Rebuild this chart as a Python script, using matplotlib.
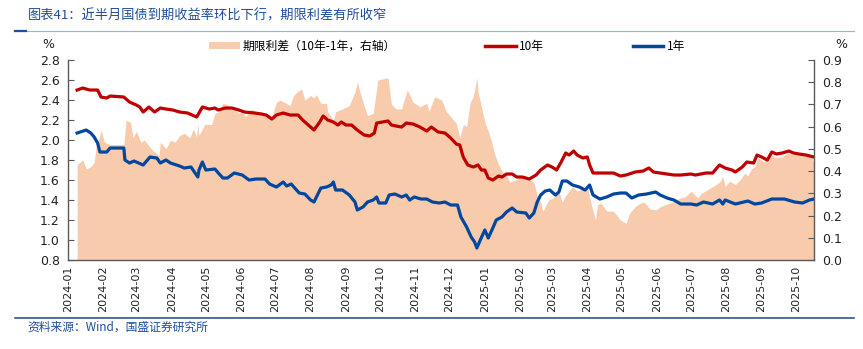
import numpy as np
import pandas as pd
import matplotlib
matplotlib.use("Agg")
import matplotlib.pyplot as plt
import matplotlib.dates as mdates
from matplotlib.lines import Line2D

plt.rcParams['font.family'] = ['Noto Sans CJK SC', 'DejaVu Sans']

# 10年国债到期收益率 (%)
ten_year = [
    ('2024-01-09', 2.50), ('2024-01-14', 2.52), ('2024-01-20', 2.50), ('2024-01-27', 2.50),
    ('2024-01-30', 2.43), ('2024-02-04', 2.42), ('2024-02-07', 2.44), ('2024-02-19', 2.43),
    ('2024-02-24', 2.38), ('2024-03-01', 2.35), ('2024-03-04', 2.33), ('2024-03-07', 2.28),
    ('2024-03-12', 2.33), ('2024-03-17', 2.28), ('2024-03-22', 2.32), ('2024-03-27', 2.31),
    ('2024-04-02', 2.30), ('2024-04-08', 2.28), ('2024-04-15', 2.27), ('2024-04-23', 2.23),
    ('2024-04-28', 2.33), ('2024-05-04', 2.31), ('2024-05-09', 2.32), ('2024-05-12', 2.30),
    ('2024-05-18', 2.32), ('2024-05-24', 2.32), ('2024-05-30', 2.30), ('2024-06-04', 2.28),
    ('2024-06-13', 2.27), ('2024-06-19', 2.26), ('2024-06-23', 2.25), ('2024-06-28', 2.21),
    ('2024-07-02', 2.25), ('2024-07-08', 2.27), ('2024-07-14', 2.25), ('2024-07-21', 2.25),
    ('2024-07-25', 2.20), ('2024-07-30', 2.15), ('2024-08-04', 2.10), ('2024-08-09', 2.18),
    ('2024-08-12', 2.24), ('2024-08-16', 2.20), ('2024-08-21', 2.18), ('2024-08-25', 2.15),
    ('2024-08-28', 2.18), ('2024-09-01', 2.15), ('2024-09-06', 2.15), ('2024-09-11', 2.10),
    ('2024-09-17', 2.05), ('2024-09-22', 2.04), ('2024-09-26', 2.07), ('2024-09-28', 2.17),
    ('2024-10-03', 2.18), ('2024-10-08', 2.19), ('2024-10-11', 2.15), ('2024-10-15', 2.14),
    ('2024-10-20', 2.13), ('2024-10-24', 2.17), ('2024-10-30', 2.16), ('2024-11-05', 2.13),
    ('2024-11-11', 2.09), ('2024-11-15', 2.13), ('2024-11-21', 2.08), ('2024-11-27', 2.07),
    ('2024-12-02', 2.02), ('2024-12-07', 1.96), ('2024-12-10', 1.95), ('2024-12-13', 1.83),
    ('2024-12-17', 1.75), ('2024-12-22', 1.73), ('2024-12-26', 1.75), ('2024-12-29', 1.70),
    ('2025-01-01', 1.70), ('2025-01-04', 1.62), ('2025-01-08', 1.60), ('2025-01-13', 1.64),
    ('2025-01-16', 1.63), ('2025-01-20', 1.66), ('2025-01-25', 1.66), ('2025-01-29', 1.63),
    ('2025-02-03', 1.63), ('2025-02-09', 1.61), ('2025-02-15', 1.65), ('2025-02-19', 1.70),
    ('2025-02-25', 1.75), ('2025-03-01', 1.73), ('2025-03-05', 1.70), ('2025-03-09', 1.78),
    ('2025-03-13', 1.87), ('2025-03-16', 1.85), ('2025-03-20', 1.89), ('2025-03-23', 1.85),
    ('2025-03-28', 1.82), ('2025-04-01', 1.83), ('2025-04-03', 1.75), ('2025-04-06', 1.67),
    ('2025-04-12', 1.67), ('2025-04-18', 1.67), ('2025-04-24', 1.67), ('2025-04-30', 1.64),
    ('2025-05-05', 1.65), ('2025-05-13', 1.68), ('2025-05-20', 1.69), ('2025-05-25', 1.72),
    ('2025-05-29', 1.68), ('2025-06-04', 1.67), ('2025-06-10', 1.66), ('2025-06-16', 1.65),
    ('2025-06-22', 1.65), ('2025-07-01', 1.66), ('2025-07-05', 1.65), ('2025-07-14', 1.67),
    ('2025-07-20', 1.67), ('2025-07-26', 1.75), ('2025-07-31', 1.72), ('2025-08-06', 1.70),
    ('2025-08-09', 1.68), ('2025-08-15', 1.73), ('2025-08-19', 1.78), ('2025-08-25', 1.77),
    ('2025-08-28', 1.85), ('2025-09-01', 1.83), ('2025-09-06', 1.80), ('2025-09-10', 1.88),
    ('2025-09-14', 1.86), ('2025-09-19', 1.87), ('2025-09-25', 1.89), ('2025-09-29', 1.87),
    ('2025-10-04', 1.86), ('2025-10-10', 1.85), ('2025-10-17', 1.83),
]

# 1年国债到期收益率 (%)
one_year = [
    ('2024-01-09', 2.07), ('2024-01-17', 2.10), ('2024-01-21', 2.07), ('2024-01-24', 2.03),
    ('2024-01-27', 1.97), ('2024-01-29', 1.88), ('2024-02-04', 1.88), ('2024-02-07', 1.92),
    ('2024-02-19', 1.92), ('2024-02-20', 1.80), ('2024-02-24', 1.77), ('2024-02-28', 1.79),
    ('2024-03-07', 1.75), ('2024-03-13', 1.83), ('2024-03-19', 1.82), ('2024-03-22', 1.77),
    ('2024-03-27', 1.80), ('2024-03-31', 1.77), ('2024-04-08', 1.74), ('2024-04-12', 1.72),
    ('2024-04-18', 1.73), ('2024-04-24', 1.63), ('2024-04-25', 1.70), ('2024-04-28', 1.78),
    ('2024-05-01', 1.70), ('2024-05-09', 1.71), ('2024-05-12', 1.67), ('2024-05-16', 1.62),
    ('2024-05-20', 1.62), ('2024-05-26', 1.67), ('2024-06-02', 1.65), ('2024-06-08', 1.60),
    ('2024-06-14', 1.61), ('2024-06-22', 1.61), ('2024-06-26', 1.56), ('2024-07-02', 1.53),
    ('2024-07-08', 1.58), ('2024-07-11', 1.54), ('2024-07-15', 1.56), ('2024-07-22', 1.47),
    ('2024-07-27', 1.46), ('2024-08-01', 1.40), ('2024-08-04', 1.38), ('2024-08-10', 1.52),
    ('2024-08-15', 1.53), ('2024-08-19', 1.55), ('2024-08-21', 1.58), ('2024-08-23', 1.50),
    ('2024-08-29', 1.50), ('2024-09-04', 1.45), ('2024-09-09', 1.38), ('2024-09-11', 1.30),
    ('2024-09-16', 1.33), ('2024-09-20', 1.38), ('2024-09-25', 1.40), ('2024-09-28', 1.43),
    ('2024-09-30', 1.37), ('2024-10-06', 1.37), ('2024-10-09', 1.45), ('2024-10-14', 1.46),
    ('2024-10-20', 1.43), ('2024-10-24', 1.45), ('2024-10-27', 1.40), ('2024-10-31', 1.43),
    ('2024-11-06', 1.41), ('2024-11-11', 1.41), ('2024-11-16', 1.38), ('2024-11-22', 1.37),
    ('2024-11-27', 1.38), ('2024-12-02', 1.35), ('2024-12-08', 1.35), ('2024-12-11', 1.23),
    ('2024-12-16', 1.13), ('2024-12-20', 1.03), ('2024-12-23', 0.98), ('2024-12-25', 0.92),
    ('2024-12-28', 1.00), ('2025-01-01', 1.10), ('2025-01-04', 1.02), ('2025-01-08', 1.12),
    ('2025-01-11', 1.20), ('2025-01-16', 1.23), ('2025-01-20', 1.28), ('2025-01-25', 1.32),
    ('2025-01-29', 1.28), ('2025-02-06', 1.27), ('2025-02-09', 1.22), ('2025-02-13', 1.27),
    ('2025-02-16', 1.38), ('2025-02-19', 1.45), ('2025-02-23', 1.49), ('2025-02-27', 1.50),
    ('2025-03-04', 1.45), ('2025-03-07', 1.48), ('2025-03-10', 1.59), ('2025-03-14', 1.59),
    ('2025-03-19', 1.55), ('2025-03-25', 1.53), ('2025-03-30', 1.50), ('2025-04-03', 1.55),
    ('2025-04-06', 1.45), ('2025-04-12', 1.41), ('2025-04-18', 1.43), ('2025-04-24', 1.46),
    ('2025-04-30', 1.47), ('2025-05-05', 1.47), ('2025-05-10', 1.42), ('2025-05-16', 1.45),
    ('2025-05-23', 1.46), ('2025-05-31', 1.48), ('2025-06-04', 1.45), ('2025-06-10', 1.42),
    ('2025-06-16', 1.40), ('2025-06-22', 1.36), ('2025-07-01', 1.36), ('2025-07-06', 1.35),
    ('2025-07-12', 1.38), ('2025-07-20', 1.36), ('2025-07-26', 1.40), ('2025-07-29', 1.36),
    ('2025-07-31', 1.40), ('2025-08-09', 1.36), ('2025-08-20', 1.39), ('2025-08-26', 1.36),
    ('2025-09-01', 1.37), ('2025-09-10', 1.41), ('2025-09-21', 1.41), ('2025-09-30', 1.38),
    ('2025-10-07', 1.37), ('2025-10-13', 1.40), ('2025-10-17', 1.41),
]

# 期限利差 10年-1年 (%，右轴)
term_spread = [
    ('2024-01-09', 0.43), ('2024-01-14', 0.45), ('2024-01-17', 0.41), ('2024-01-21', 0.42),
    ('2024-01-24', 0.44), ('2024-01-26', 0.52), ('2024-01-29', 0.56), ('2024-01-30', 0.585),
    ('2024-02-02', 0.53), ('2024-02-07', 0.52), ('2024-02-19', 0.52), ('2024-02-21', 0.63),
    ('2024-02-25', 0.62), ('2024-02-27', 0.55), ('2024-03-01', 0.58), ('2024-03-05', 0.53),
    ('2024-03-08', 0.54), ('2024-03-11', 0.52), ('2024-03-15', 0.495), ('2024-03-21', 0.47),
    ('2024-03-22', 0.53), ('2024-03-24', 0.52), ('2024-03-27', 0.50), ('2024-03-31', 0.54),
    ('2024-04-04', 0.53), ('2024-04-08', 0.56), ('2024-04-12', 0.57), ('2024-04-17', 0.55),
    ('2024-04-20', 0.59), ('2024-04-23', 0.555), ('2024-04-24', 0.615), ('2024-04-25', 0.56),
    ('2024-04-30', 0.61), ('2024-05-06', 0.61), ('2024-05-09', 0.66), ('2024-05-12', 0.665),
    ('2024-05-16', 0.705), ('2024-05-20', 0.70), ('2024-05-25', 0.68), ('2024-05-30', 0.66),
    ('2024-06-02', 0.665), ('2024-06-05', 0.645), ('2024-06-10', 0.68), ('2024-06-14', 0.665),
    ('2024-06-22', 0.66), ('2024-06-28', 0.645), ('2024-07-02', 0.71), ('2024-07-05', 0.72),
    ('2024-07-09', 0.71), ('2024-07-14', 0.695), ('2024-07-17', 0.74), ('2024-07-21', 0.76),
    ('2024-07-24', 0.77), ('2024-07-27', 0.72), ('2024-08-01', 0.74), ('2024-08-04', 0.73),
    ('2024-08-06', 0.745), ('2024-08-10', 0.705), ('2024-08-15', 0.705), ('2024-08-16', 0.667),
    ('2024-08-21', 0.63), ('2024-08-23', 0.667), ('2024-08-29', 0.68), ('2024-09-04', 0.695),
    ('2024-09-09', 0.757), ('2024-09-11', 0.80), ('2024-09-16', 0.71), ('2024-09-20', 0.65),
    ('2024-09-25', 0.66), ('2024-09-29', 0.81), ('2024-10-03', 0.815), ('2024-10-08', 0.82),
    ('2024-10-11', 0.70), ('2024-10-15', 0.68), ('2024-10-20', 0.68), ('2024-10-22', 0.72),
    ('2024-10-25', 0.765), ('2024-10-30', 0.71), ('2024-11-05', 0.69), ('2024-11-11', 0.705),
    ('2024-11-13', 0.67), ('2024-11-18', 0.735), ('2024-11-24', 0.72), ('2024-11-28', 0.67),
    ('2024-12-02', 0.645), ('2024-12-07', 0.615), ('2024-12-10', 0.55), ('2024-12-13', 0.61),
    ('2024-12-16', 0.60), ('2024-12-19', 0.705), ('2024-12-22', 0.74), ('2024-12-25', 0.82),
    ('2024-12-26', 0.757), ('2024-12-29', 0.69), ('2025-01-01', 0.62), ('2025-01-04', 0.58),
    ('2025-01-07', 0.53), ('2025-01-10', 0.47), ('2025-01-13', 0.43), ('2025-01-16', 0.40),
    ('2025-01-20', 0.38), ('2025-01-23', 0.35), ('2025-01-28', 0.36), ('2025-02-01', 0.37),
    ('2025-02-07', 0.37), ('2025-02-13', 0.35), ('2025-02-16', 0.29), ('2025-02-19', 0.26),
    ('2025-02-21', 0.22), ('2025-02-26', 0.27), ('2025-03-02', 0.28), ('2025-03-07', 0.31),
    ('2025-03-10', 0.26), ('2025-03-13', 0.29), ('2025-03-19', 0.33), ('2025-03-23', 0.31),
    ('2025-03-28', 0.32), ('2025-04-01', 0.33), ('2025-04-03', 0.28), ('2025-04-08', 0.18),
    ('2025-04-10', 0.25), ('2025-04-13', 0.255), ('2025-04-18', 0.22), ('2025-04-24', 0.22),
    ('2025-04-30', 0.18), ('2025-05-05', 0.165), ('2025-05-08', 0.21), ('2025-05-13', 0.24),
    ('2025-05-17', 0.255), ('2025-05-21', 0.26), ('2025-05-26', 0.23), ('2025-05-31', 0.225),
    ('2025-06-04', 0.24), ('2025-06-09', 0.25), ('2025-06-14', 0.26), ('2025-06-18', 0.27),
    ('2025-06-22', 0.28), ('2025-06-26', 0.285), ('2025-07-01', 0.31), ('2025-07-07', 0.28),
    ('2025-07-10', 0.30), ('2025-07-15', 0.315), ('2025-07-20', 0.33), ('2025-07-26', 0.35),
    ('2025-07-29', 0.375), ('2025-07-31', 0.33), ('2025-08-04', 0.355), ('2025-08-09', 0.34),
    ('2025-08-13', 0.36), ('2025-08-17', 0.39), ('2025-08-20', 0.38), ('2025-08-23', 0.41),
    ('2025-08-26', 0.42), ('2025-08-29', 0.46), ('2025-09-03', 0.44), ('2025-09-06', 0.465),
    ('2025-09-10', 0.47), ('2025-09-14', 0.46), ('2025-09-19', 0.465), ('2025-09-23', 0.48),
    ('2025-09-30', 0.475), ('2025-10-09', 0.47), ('2025-10-15', 0.465), ('2025-10-17', 0.435),
]


def unpack(pairs):
    d, v = zip(*pairs)
    return pd.to_datetime(list(d)), np.array(v)


t10, y10 = unpack(ten_year)
t1, y1 = unpack(one_year)
ts, sp = unpack(term_spread)

RED = '#C00000'
BLUE = '#00479D'
PEACH = '#F8CBAD'
NAVY = '#1F4E9A'
AX_COL = '#595959'

fig = plt.figure(figsize=(8.63, 3.49), dpi=100)
ax = fig.add_axes([0.0788, 0.255, 0.8644, 0.573])
axr = ax.twinx()
ax.set_zorder(axr.get_zorder() + 1)
ax.patch.set_visible(False)

axr.fill_between(ts, 0, sp, color=PEACH, linewidth=0)
ax.plot(t10, y10, color=RED, lw=2.3)
ax.plot(t1, y1, color=BLUE, lw=2.3)

ax.set_ylim(0.8, 2.8)
ax.set_yticks(np.arange(0.8, 2.81, 0.2))
ax.yaxis.set_major_formatter(matplotlib.ticker.FormatStrFormatter('%.1f'))
axr.set_ylim(0, 0.9)
axr.set_yticks(np.arange(0, 0.91, 0.1))
axr.yaxis.set_major_formatter(matplotlib.ticker.FormatStrFormatter('%.1f'))

ax.set_xlim(pd.Timestamp('2024-01-01'), pd.Timestamp('2025-10-17'))
ax.xaxis.set_major_locator(mdates.MonthLocator())
ax.xaxis.set_major_formatter(mdates.DateFormatter('%Y-%m'))

for a in (ax, axr):
    a.spines['top'].set_visible(False)
    for s in ('left', 'right', 'bottom'):
        a.spines[s].set_color(AX_COL)
        a.spines[s].set_linewidth(1.0)
ax.spines['right'].set_visible(False)
axr.spines['left'].set_visible(False)
axr.spines['bottom'].set_visible(False)

ax.tick_params(axis='y', direction='in', length=4, width=0.8, color=AX_COL,
               labelsize=9, labelcolor='#222222', pad=6)
axr.tick_params(axis='y', direction='in', length=4, width=0.8, color=AX_COL,
                labelsize=9, labelcolor='#222222', pad=6)
ax.tick_params(axis='x', length=0, labelsize=8, labelcolor='#222222',
               labelrotation=90, pad=4)
for lab in ax.get_xticklabels() + ax.get_yticklabels() + axr.get_yticklabels():
    lab.set_family('DejaVu Sans')

fig.text(0.049, 0.862, '%', fontsize=9, family='DejaVu Sans', color='#222222')
fig.text(0.968, 0.862, '%', fontsize=9, family='DejaVu Sans', color='#222222')

handles = [
    matplotlib.patches.Patch(facecolor=PEACH, edgecolor='none'),
    Line2D([], [], color=RED, lw=2.5),
    Line2D([], [], color=BLUE, lw=2.5),
]
labels = ['期限利差（10年-1年，右轴）', '10年', '1年']
fig.legend(handles, labels, loc='center', bbox_to_anchor=(0.518, 0.868), ncol=3,
           frameon=False, fontsize=8.5, handlelength=2.6, handleheight=0.6,
           handletextpad=0.3, columnspacing=7.5)

fig.text(0.032, 0.955, '图表41：近半月国债到期收益率环比下行，期限利差有所收窄',
         fontsize=9.5, color=NAVY, va='center', style='italic')
fig.add_artist(Line2D([0.017, 0.99], [0.911, 0.911], color='#9DB2D3', lw=0.8,
                      transform=fig.transFigure))
fig.add_artist(Line2D([0.017, 0.03], [0.911, 0.911], color=NAVY, lw=1.6,
                      transform=fig.transFigure))
fig.add_artist(Line2D([0.017, 0.99], [0.089, 0.089], color='#2F5597', lw=1.2,
                      transform=fig.transFigure))
fig.text(0.032, 0.063, '资料来源：Wind，国盛证券研究所', fontsize=8.5,
         color=NAVY, va='center', style='italic')

fig.savefig('out.png', dpi=100)
